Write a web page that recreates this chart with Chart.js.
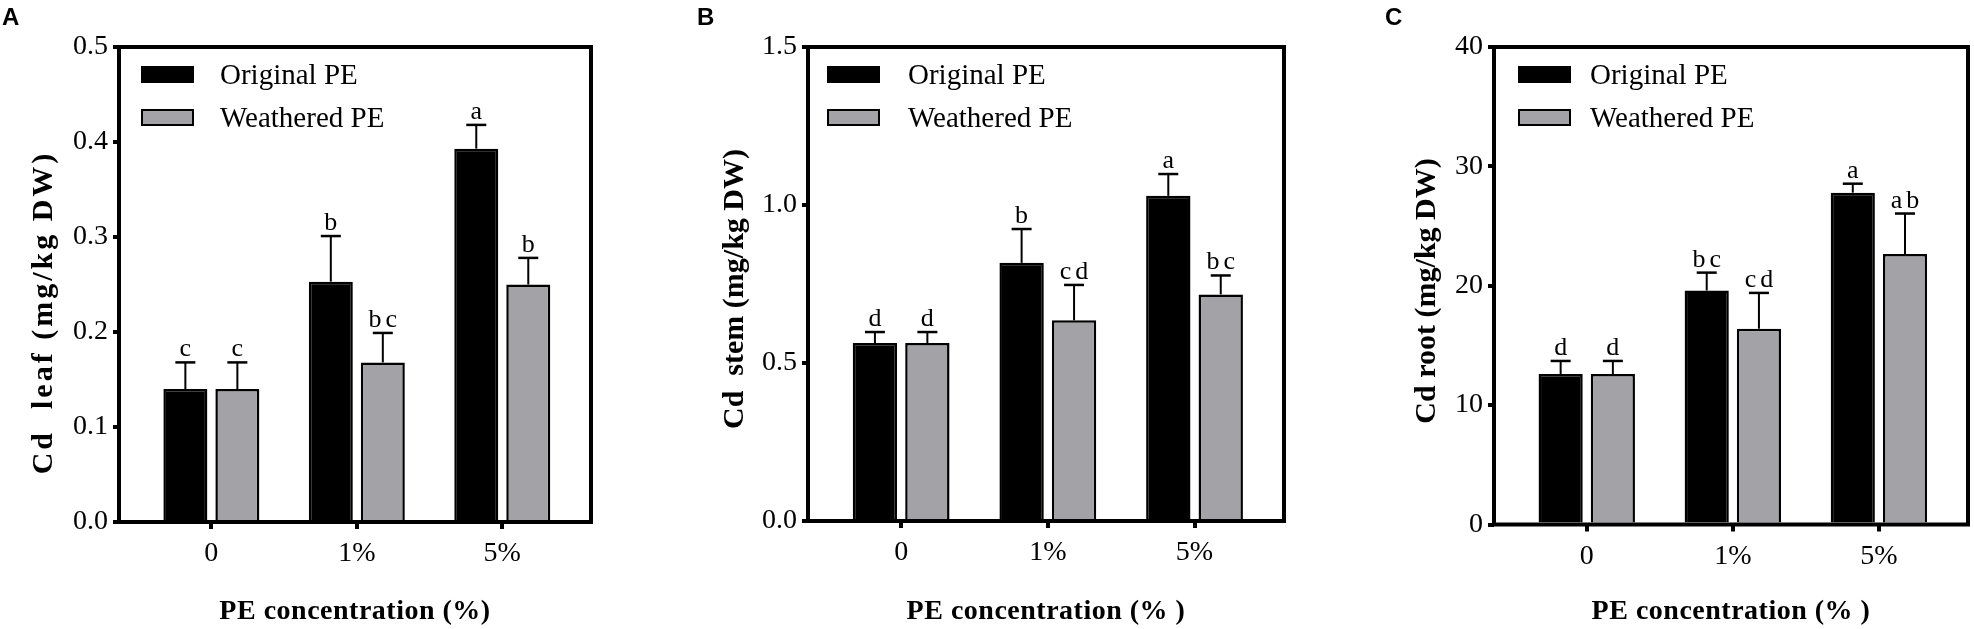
<!DOCTYPE html>
<html>
<head>
<meta charset="utf-8">
<title>Cd in leaf, stem and root</title>
<script src="https://cdn.jsdelivr.net/npm/chart.js@4.4.1/dist/chart.umd.min.js"></script>
<style>
  html, body { margin: 0; padding: 0; background: #fff; }
  body { width: 1974px; height: 629px; position: relative; overflow: hidden; }
  canvas { position: absolute; top: 0; }
</style>
</head>
<body>
<canvas id="chartA" width="640" height="629" style="left:0"></canvas>
<canvas id="chartB" width="690" height="629" style="left:640px"></canvas>
<canvas id="chartC" width="644" height="629" style="left:1330px"></canvas>
<script>
const categories = ["0", "1%", "5%"];
const seriesNames = ["Original PE", "Weathered PE"];
const seriesColors = ["#000000", "#a2a2a7"];

// A - leaf
const leafOriginal = [0.140, 0.253, 0.393];
const leafOriginalErr = [0.028, 0.048, 0.025];
const leafWeathered = [0.140, 0.168, 0.250];
const leafWeatheredErr = [0.028, 0.031, 0.028];
const leafOriginalLetters = ["c", "b", "a"];
const leafWeatheredLetters = ["c", "bc", "b"];
const leafTicks = ["0.0", "0.1", "0.2", "0.3", "0.4", "0.5"];

// B - stem
const stemOriginal = [0.563, 0.817, 1.029];
const stemOriginalErr = [0.035, 0.107, 0.069];
const stemWeathered = [0.563, 0.635, 0.717];
const stemWeatheredErr = [0.035, 0.112, 0.060];
const stemOriginalLetters = ["d", "b", "a"];
const stemWeatheredLetters = ["d", "cd", "bc"];
const stemTicks = ["0.0", "0.5", "1.0", "1.5"];

// C - root
const rootOriginal = [12.6, 19.6, 27.8];
const rootOriginalErr = [1.1, 1.5, 0.75];
const rootWeathered = [12.6, 16.4, 22.65];
const rootWeatheredErr = [1.1, 3.0, 3.4];
const rootOriginalLetters = ["d", "bc", "a"];
const rootWeatheredLetters = ["d", "cd", "ab"];
const rootTicks = ["0", "10", "20", "30", "40"];

const serif = "'Times New Roman', 'Liberation Serif', serif";
const sans = "Arial, 'Liberation Sans', sans-serif";

// error bars, letters, frame, legend and titles
const panelDecor = {
	id: "panelDecor",
	afterDatasetsDraw(chart, args, opts) {
		const ctx = chart.ctx;
		const area = chart.chartArea;
		const yScale = chart.scales.y;
		ctx.save();
		ctx.strokeStyle = "#000";
		ctx.fillStyle = "#000";

		chart.data.datasets.forEach((ds, d) => {
			const meta = chart.getDatasetMeta(d);
			meta.data.forEach((bar, i) => {
				const top = yScale.getPixelForValue(ds.data[i].y + ds.errors[i]);
				ctx.lineWidth = 2;
				ctx.beginPath();
				ctx.moveTo(bar.x, bar.y);
				ctx.lineTo(bar.x, top);
				ctx.stroke();
				ctx.lineWidth = 2.5;
				ctx.beginPath();
				ctx.moveTo(bar.x - 10, top);
				ctx.lineTo(bar.x + 10, top);
				ctx.stroke();
				ctx.font = "26px " + serif;
				ctx.textAlign = "center";
				ctx.textBaseline = "alphabetic";
				ctx.letterSpacing = "4px";
				ctx.fillText(ds.letters[i], bar.x + 2, top - 6);
			});
		});

		// frame
		ctx.letterSpacing = "0px";
		ctx.lineWidth = 4;
		ctx.strokeRect(area.left, area.top, area.right - area.left, area.bottom - area.top);

		// legend
		chart.data.datasets.forEach((ds, d) => {
			const bx = area.left + opts.legendBox;
			const by = area.top + 20 + d * 43;
			ctx.fillStyle = ds.backgroundColor;
			ctx.fillRect(bx, by, 51, 15);
			ctx.lineWidth = 2;
			ctx.strokeRect(bx, by, 51, 15);
			ctx.fillStyle = "#000";
			ctx.font = "29px " + serif;
			ctx.textAlign = "left";
			ctx.textBaseline = "middle";
			ctx.fillText(ds.label, area.left + opts.legendText, by + 9);
		});

		// y title
		ctx.save();
		ctx.translate(area.left - opts.yTitleDx, opts.yTitleY);
		ctx.rotate(-Math.PI / 2);
		ctx.font = "bold 30px " + serif;
		ctx.letterSpacing = opts.yTitleSpacing + "px";
		ctx.textAlign = "center";
		ctx.textBaseline = "middle";
		ctx.fillText(opts.yTitle, opts.yTitleSpacing / 2, 0);
		ctx.restore();

		// x title
		ctx.font = "bold 28px " + serif;
		ctx.letterSpacing = "0.5px";
		ctx.textAlign = "center";
		ctx.textBaseline = "middle";
		ctx.fillText(opts.xTitle, (area.left + area.right) / 2, 612);

		// panel letter
		ctx.letterSpacing = "0px";
		ctx.font = "bold 24px " + sans;
		ctx.textAlign = "left";
		ctx.textBaseline = "alphabetic";
		ctx.fillText(opts.panel, opts.panelX, 25);
		ctx.restore();
	},
};

function makePanel(canvasId, series, errors, letters, yTicks, layout, decor) {
	const datasets = series.map((values, s) => ({
		label: seriesNames[s],
		data: categories.map((c, i) => ({ x: i, y: values[i] })),
		errors: errors[s],
		letters: letters[s],
		backgroundColor: seriesColors[s],
		borderColor: "#000",
		borderWidth: 2.5,
		categoryPercentage: 0.715,
		barPercentage: 0.846,
	}));
	const tickValues = yTicks.map(Number);
	return new Chart(document.getElementById(canvasId), {
		type: "bar",
		data: { datasets },
		plugins: [panelDecor],
		options: {
			responsive: false,
			animation: false,
			layout: { padding: { left: 0, top: 47, right: layout.padRight, bottom: 0 } },
			plugins: {
				legend: { display: false },
				tooltip: { enabled: false },
				panelDecor: decor,
			},
			scales: {
				x: {
					type: "linear",
					offset: false,
					min: -0.635,
					max: 2.61,
					afterBuildTicks: (scale) => {
						scale.ticks = categories.map((c, i) => ({ value: i }));
					},
					afterFit: (scale) => {
						scale.height = layout.xHeight;
					},
					ticks: {
						callback: (v) => categories[v],
						color: "#000",
						font: { family: serif, size: 28 },
						padding: 8,
						maxRotation: 0,
					},
					grid: {
						offset: false,
						drawOnChartArea: false,
						drawTicks: true,
						tickLength: 7,
						lineWidth: 4,
						color: "#000",
					},
					border: { display: false },
				},
				y: {
					min: 0,
					max: tickValues[tickValues.length - 1],
					afterBuildTicks: (scale) => {
						scale.ticks = tickValues.map((v) => ({ value: v }));
					},
					afterFit: (scale) => {
						scale.width = layout.yWidth;
					},
					ticks: {
						callback: (v, i) => yTicks[i],
						color: "#000",
						font: { family: serif, size: 28 },
						padding: 5,
					},
					grid: {
						drawOnChartArea: false,
						drawTicks: true,
						tickLength: 6,
						lineWidth: 4,
						color: "#000",
					},
					border: { display: false },
				},
			},
		},
	});
}

makePanel(
	"chartA",
	[leafOriginal, leafWeathered],
	[leafOriginalErr, leafWeatheredErr],
	[leafOriginalLetters, leafWeatheredLetters],
	leafTicks,
	{ yWidth: 119, xHeight: 107, padRight: 49 },
	{ panel: "A", panelX: 2, yTitle: "Cd  leaf (mg/kg DW)", yTitleDx: 75, yTitleY: 314,
	  yTitleSpacing: 3, xTitle: "PE concentration (%)", legendBox: 23, legendText: 101 }
);

makePanel(
	"chartB",
	[stemOriginal, stemWeathered],
	[stemOriginalErr, stemWeatheredErr],
	[stemOriginalLetters, stemWeatheredLetters],
	stemTicks,
	{ yWidth: 168, xHeight: 108, padRight: 46 },
	{ panel: "B", panelX: 57, yTitle: "Cd  stem (mg/kg DW)", yTitleDx: 73, yTitleY: 289,
	  yTitleSpacing: 0, xTitle: "PE concentration (% )", legendBox: 20, legendText: 100 }
);

makePanel(
	"chartC",
	[rootOriginal, rootWeathered],
	[rootOriginalErr, rootWeatheredErr],
	[rootOriginalLetters, rootWeatheredLetters],
	rootTicks,
	{ yWidth: 164, xHeight: 104.5, padRight: 6 },
	{ panel: "C", panelX: 55, yTitle: "Cd root (mg/kg DW)", yTitleDx: 67, yTitleY: 291,
	  yTitleSpacing: 0, xTitle: "PE concentration (% )", legendBox: 25, legendText: 96 }
);
</script>
</body>
</html>
